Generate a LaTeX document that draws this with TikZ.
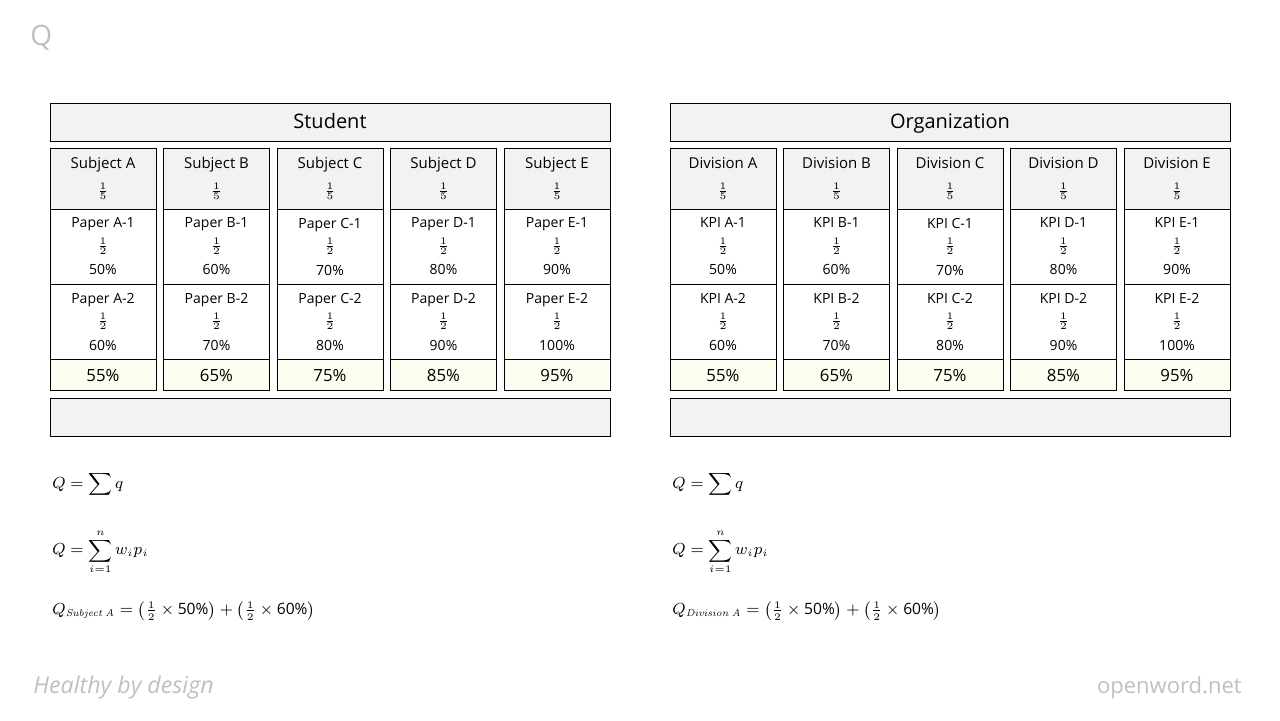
\documentclass[tikz,border=0pt]{standalone}
\usepackage{amsmath,amssymb}
\usepackage[no-math]{fontspec}
\setmainfont{Open Sans}
\usepackage{tikz}
\usetikzlibrary{positioning}
\definecolor{headfill}{RGB}{242,242,242}
\definecolor{scorefill}{RGB}{254,254,240}
\definecolor{brandgray}{RGB}{191,191,191}

\begin{document}
\begin{tikzpicture}[
    x=0.5pt, y=-0.5pt,
    node distance=3.75pt,
    title/.style={rectangle, draw, line width=0.5pt, fill=headfill, outer sep=0pt, minimum width=280pt, minimum height=19pt, text height=1.6ex, text depth=0.4ex, font=\fontsize{10}{12}\selectfont},
    headcell/.style={rectangle, draw, line width=0.5pt, fill=headfill, outer sep=0pt, minimum width=53pt, minimum height=30.5pt, align=center, font=\fontsize{7.5}{13}\selectfont},
    papercell/.style={rectangle, draw, line width=0.5pt, outer sep=0pt, minimum width=53pt, minimum height=37.5pt, align=center, font=\fontsize{7}{11}\selectfont},
    scorecell/.style={rectangle, draw, line width=0.5pt, fill=scorefill, outer sep=0pt, minimum width=53pt, minimum height=15pt, text height=1.5ex, text depth=0.2ex, font=\fontsize{8.4}{10}\selectfont},
    formula/.style={anchor=west, inner sep=0pt, font=\fontsize{7.8}{10}\selectfont},
    brand/.style={text=brandgray, inner sep=0pt},
]
\useasboundingbox (0,0) rectangle (1280,720);

% === BRANDING ===
\node[brand, anchor=west, font=\fontsize{14}{16}\selectfont] (qmark) at (30,38) {Q};
\node[brand, anchor=base west, font=\itshape\fontsize{11.6}{13}\selectfont] (tagline) at (33,693) {Healthy by design};
\node[brand, anchor=base east, font=\fontsize{11}{13}\selectfont] (site) at (1242,693) {openword.net};

% === STUDENT ===
\node[title, anchor=north west] (student) at (50,103) {Student};
\node[headcell, below right=3.5pt and 0pt of student.south west] (subA) {Subject A\\$\frac{1}{5}$};
\node[headcell, right=of subA] (subB) {Subject B\\$\frac{1}{5}$};
\node[headcell, right=of subB] (subC) {Subject C\\$\frac{1}{5}$};
\node[headcell, right=of subC] (subD) {Subject D\\$\frac{1}{5}$};
\node[headcell, right=of subD] (subE) {Subject E\\$\frac{1}{5}$};

\node[papercell, below=0pt of subA] (paperA1) {Paper A-1\\$\frac{1}{2}$\\[1.5pt]50\%};
\node[papercell, below=0pt of subB] (paperB1) {Paper B-1\\$\frac{1}{2}$\\[1.5pt]60\%};
\node[papercell, below=0pt of subC] (paperC1) {Paper C-1\\$\frac{1}{2}$\\[1.5pt]70\%};
\node[papercell, below=0pt of subD] (paperD1) {Paper D-1\\$\frac{1}{2}$\\[1.5pt]80\%};
\node[papercell, below=0pt of subE] (paperE1) {Paper E-1\\$\frac{1}{2}$\\[1.5pt]90\%};

\node[papercell, below=0pt of paperA1] (paperA2) {Paper A-2\\$\frac{1}{2}$\\[1.5pt]60\%};
\node[papercell, below=0pt of paperB1] (paperB2) {Paper B-2\\$\frac{1}{2}$\\[1.5pt]70\%};
\node[papercell, below=0pt of paperC1] (paperC2) {Paper C-2\\$\frac{1}{2}$\\[1.5pt]80\%};
\node[papercell, below=0pt of paperD1] (paperD2) {Paper D-2\\$\frac{1}{2}$\\[1.5pt]90\%};
\node[papercell, below=0pt of paperE1] (paperE2) {Paper E-2\\$\frac{1}{2}$\\[1.5pt]100\%};

\node[scorecell, below=0pt of paperA2] (scoreA) {55\%};
\node[scorecell, below=0pt of paperB2] (scoreB) {65\%};
\node[scorecell, below=0pt of paperC2] (scoreC) {75\%};
\node[scorecell, below=0pt of paperD2] (scoreD) {85\%};
\node[scorecell, below=0pt of paperE2] (scoreE) {95\%};

\node[title, below right=4pt and 0pt of scoreA.south west] (studenttotal) {};

% === ORGANIZATION ===
\node[title, anchor=north west] (org) at (670,103) {Organization};
\node[headcell, below right=3.5pt and 0pt of org.south west] (divA) {Division A\\$\frac{1}{5}$};
\node[headcell, right=of divA] (divB) {Division B\\$\frac{1}{5}$};
\node[headcell, right=of divB] (divC) {Division C\\$\frac{1}{5}$};
\node[headcell, right=of divC] (divD) {Division D\\$\frac{1}{5}$};
\node[headcell, right=of divD] (divE) {Division E\\$\frac{1}{5}$};

\node[papercell, below=0pt of divA] (kpiA1) {KPI A-1\\$\frac{1}{2}$\\[1.5pt]50\%};
\node[papercell, below=0pt of divB] (kpiB1) {KPI B-1\\$\frac{1}{2}$\\[1.5pt]60\%};
\node[papercell, below=0pt of divC] (kpiC1) {KPI C-1\\$\frac{1}{2}$\\[1.5pt]70\%};
\node[papercell, below=0pt of divD] (kpiD1) {KPI D-1\\$\frac{1}{2}$\\[1.5pt]80\%};
\node[papercell, below=0pt of divE] (kpiE1) {KPI E-1\\$\frac{1}{2}$\\[1.5pt]90\%};

\node[papercell, below=0pt of kpiA1] (kpiA2) {KPI A-2\\$\frac{1}{2}$\\[1.5pt]60\%};
\node[papercell, below=0pt of kpiB1] (kpiB2) {KPI B-2\\$\frac{1}{2}$\\[1.5pt]70\%};
\node[papercell, below=0pt of kpiC1] (kpiC2) {KPI C-2\\$\frac{1}{2}$\\[1.5pt]80\%};
\node[papercell, below=0pt of kpiD1] (kpiD2) {KPI D-2\\$\frac{1}{2}$\\[1.5pt]90\%};
\node[papercell, below=0pt of kpiE1] (kpiE2) {KPI E-2\\$\frac{1}{2}$\\[1.5pt]100\%};

\node[scorecell, below=0pt of kpiA2] (divscoreA) {55\%};
\node[scorecell, below=0pt of kpiB2] (divscoreB) {65\%};
\node[scorecell, below=0pt of kpiC2] (divscoreC) {75\%};
\node[scorecell, below=0pt of kpiD2] (divscoreD) {85\%};
\node[scorecell, below=0pt of kpiE2] (divscoreE) {95\%};

\node[title, below right=4pt and 0pt of divscoreA.south west] (orgtotal) {};

% === FORMULAS ===
\node[formula] (studentsum) at (52,484) {$Q = \displaystyle\sum q$};
\node[formula] (studentweighted) at (52,552) {$Q = \displaystyle\sum_{i=1}^{n} w_i p_i$};
\node[formula] (studentexample) at (52,611) {$Q_{\mathit{Subject}\,\mathit{A}} = \bigl(\tfrac{1}{2}\times\text{50\%}\bigr)+\bigl(\tfrac{1}{2}\times\text{60\%}\bigr)$};

\node[formula] (orgsum) at (672,484) {$Q = \displaystyle\sum q$};
\node[formula] (orgweighted) at (672,552) {$Q = \displaystyle\sum_{i=1}^{n} w_i p_i$};
\node[formula] (orgexample) at (672,611) {$Q_{\mathit{Division}\,\mathit{A}} = \bigl(\tfrac{1}{2}\times\text{50\%}\bigr)+\bigl(\tfrac{1}{2}\times\text{60\%}\bigr)$};

\end{tikzpicture}
\end{document}
